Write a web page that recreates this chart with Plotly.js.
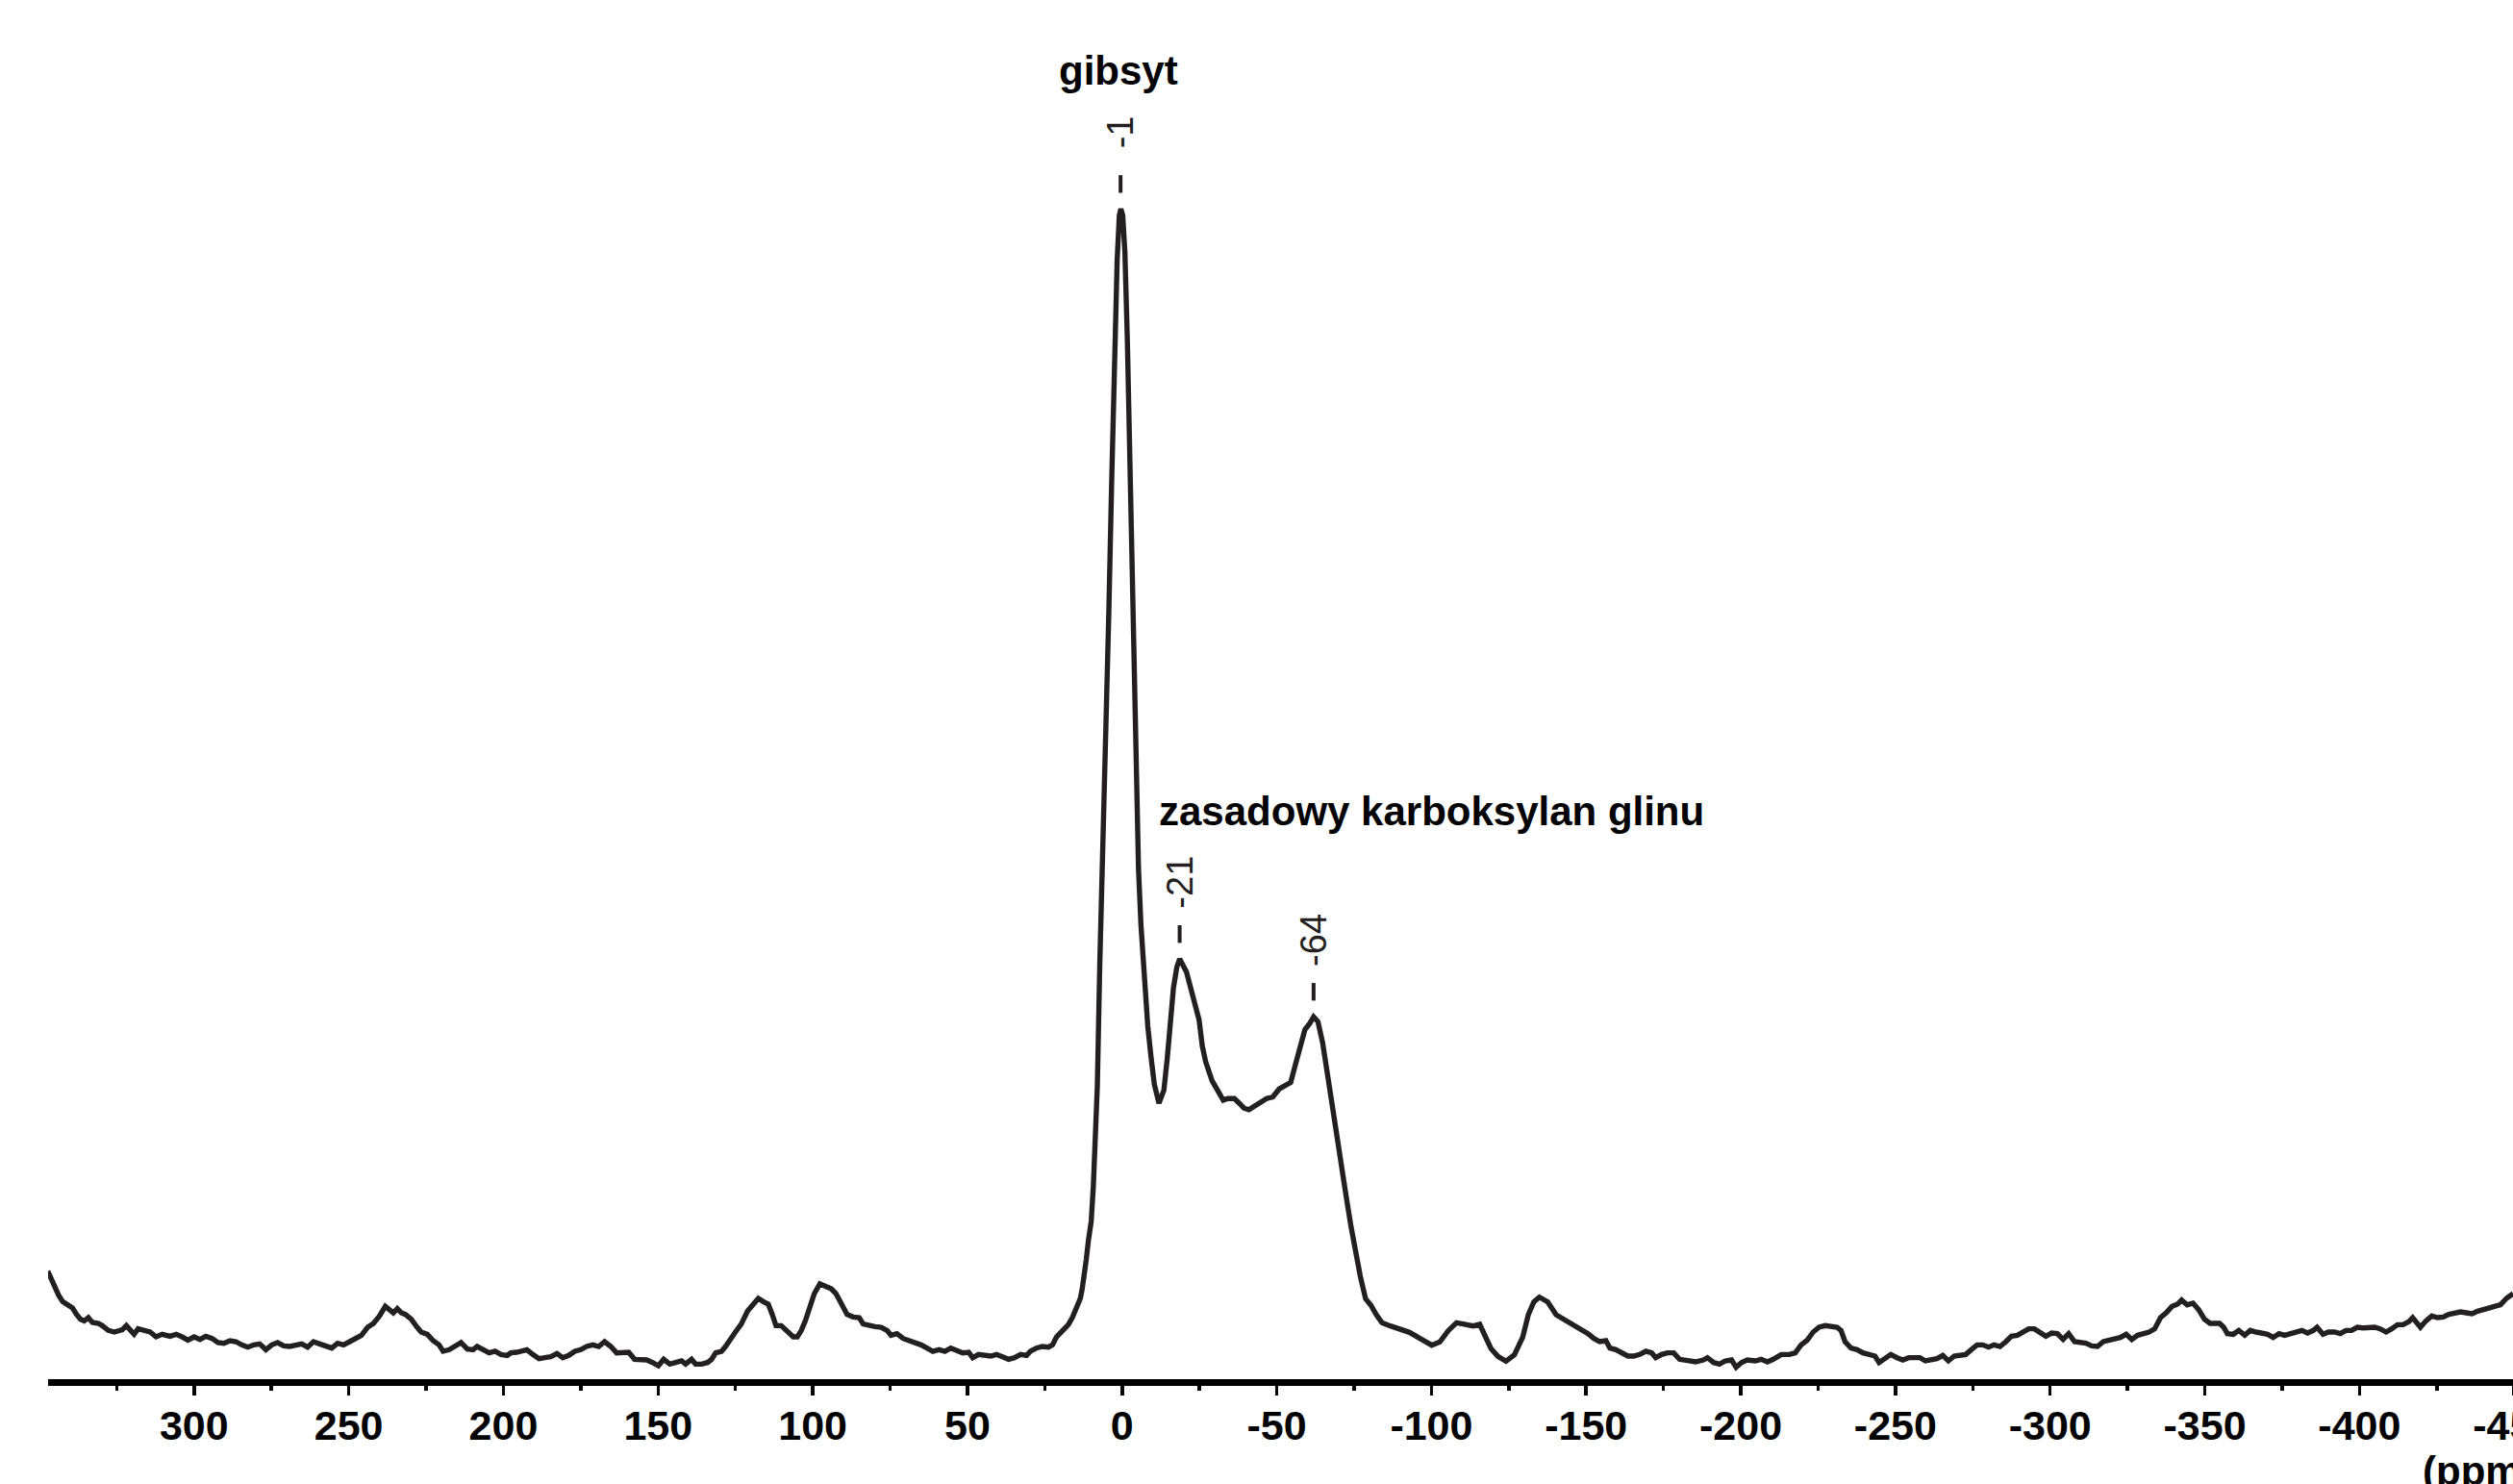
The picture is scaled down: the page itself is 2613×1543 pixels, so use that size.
<!DOCTYPE html>
<html><head><meta charset="utf-8">
<script src="https://cdn.plot.ly/plotly-3.0.1.min.js"></script>
<style>html,body{margin:0;padding:0;overflow:hidden;background:#fff}#chart{width:2720px;height:1543px}</style>
</head><body><div id="chart"></div>
<script>
// Chemical shift (ppm) and intensity (a.u.), in segments
const ppmA = [347.3,345.8,343.8,342.5,340.6,339.3,338.0,336.7,335.5,334.2,
  332.9,330.9,329.7,327.7,325.8,324.5,323.2,321.9,320.6,319.4,
  318.1,316.1,314.2,312.3,310.3,307.8,305.8,303.9,302.0,300.0,
  298.1,296.2,294.2,292.3,290.4,288.4,286.5,284.6,282.6,280.7,
  278.8,276.8,274.9,273.0,271.0,269.1,267.1,265.2,263.3,261.4,
  259.4,257.5,255.5,253.6,251.7,249.7,247.8,245.9,243.9,242.0,
  240.1,238.2,236.9,235.6,234.3,233.0,231.7,229.8,227.9,226.6,
  224.6,222.7,220.8,219.5,217.5,215.6,213.7,211.7,209.8,208.5,
  206.6,204.6,202.7,200.8,198.8,197.6,195.7,193.7,192.4,190.5,
  188.5,186.6,184.7,182.7,180.8,178.9,176.9,175.0,173.1,171.1,
  169.2,167.3,165.3,163.4,161.5,159.5,157.6,155.7,153.7,151.8,149.9];
const intA = [69.2,62.2,54.2,50.2,47.8,46.2,42.2,39.2,38.2,40.2,
  37.2,36.6,35.2,32.2,31.2,32.2,32.6,35.2,32.2,29.8,
  33.2,32.2,31.2,28.2,29.8,28.6,29.8,28.2,26.2,28.2,
  26.6,28.6,27.2,24.6,24.2,25.8,25.2,23.2,21.8,23.2,
  23.8,20.2,23.2,24.6,22.6,22.2,23.2,23.8,21.8,25.2,
  23.8,22.2,21.2,24.2,23.2,25.2,27.2,29.2,34.2,36.6,
  41.2,47.2,45.2,43.2,45.8,43.2,42.2,39.2,34.2,31.2,
  29.8,25.8,23.2,19.2,20.2,22.2,24.6,20.6,20.2,22.2,
  20.2,18.2,19.2,17.2,16.6,18.2,18.6,19.2,20.2,17.2,
  14.6,15.2,15.8,17.8,15.2,16.6,19.2,20.2,22.2,23.2,
  22.2,25.2,22.2,18.2,18.6,18.6,14.2,13.8,13.8,12.2,10.2];

const ppmB = [148.2,146.2,144.3,142.4,141.1,139.2,137.9,135.9,134.0,132.7,
  131.4,129.5,128.2,126.9,125.0,123.1,121.1,119.2,117.6,116.0,
  114.4,113.1,111.9,110.2,108.2,106.3,105.0,103.7,102.4,101.1,
  99.5,97.7,96.0,94.0,92.5,90.8,88.9,87.0,85.0,83.7,
  81.8,79.9,77.9,76.0,74.7,72.8,70.8,68.9,67.0,65.0,
  63.1,61.2,59.2,57.3,55.4,53.4,51.5,49.6,48.3,46.4,
  44.4,42.5,40.6,38.6,36.7,34.8,32.8,30.9,29.6,27.7,
  25.8,23.8,22.5,21.2,19.3,17.4,16.1,14.8,13.5,12.9,
  12.2,11.6,10.9,10.0];
const intB = [14.2,11.2,12.2,13.2,11.2,14.2,11.2,11.2,12.2,14.2,
  18.2,19.2,22.2,26.2,31.2,36.2,44.2,48.6,52.2,50.2,
  48.6,42.2,35.2,35.2,31.2,28.2,28.2,32.2,38.2,46.2,
  55.2,61.2,60.2,58.2,55.2,49.2,42.2,40.6,40.2,36.2,
  35.2,34.6,34.2,32.2,29.2,30.2,27.2,25.8,25.2,23.2,
  21.2,19.2,20.2,19.2,21.2,19.2,18.2,18.6,15.2,17.2,
  16.6,16.2,17.2,15.2,14.2,15.2,17.2,16.6,19.2,21.2,
  22.2,21.8,23.2,28.2,32.6,35.8,40.2,46.2,52.2,58.2,
  66.2,76.2,88.2,100.2];

const ppmC = [9.3,8.8,8.0,7.2,6.2,5.2,4.3,3.4,2.5,1.6,
  0.9,0.4,-0.2,-0.9,-1.7,-2.6,-3.5,-4.4,-5.3,-6.1,
  -6.8,-7.3,-8.3,-9.4,-10.4,-11.9,-13.5,-14.6,-15.6,-16.6,
  -17.7,-18.6];
const intC = [122,142,185,262,330,400,480,560,640,700,
  728,732,728,705,650,562,470,380,320,285,
  262,242,222,202,186,174,182,202,226,246,
  259,264];

const ppmD = [-20.8,-22.8,-24.9,-25.9,-27.0,-29.1,-31.1,-32.7,-34.2,-36.3,
  -37.9,-39.4,-41.0,-42.5,-44.6,-46.7,-48.7,-50.8,-52.6,-54.5,
  -56.0,-57.6,-59.1,-60.7,-61.9,-63.3,-64.8,-66.4,-67.9,-69.5,
  -71.0,-72.5,-74.0,-75.5,-77.0];
const intD = [255.9,241.9,225.9,209.9,199.9,187.9,181.9,175.9,176.9,176.9,
  173.9,170.9,169.9,171.9,173.9,176.9,177.9,182.9,184.9,186.9,
  197.9,209.9,219.9,223.9,227.9,224.9,211.9,191.9,172,152,
  134,115,97,80,66];

const ppmE = [-78.7,-80.4,-82.2,-84.0,-86.7,-89.4,-92.9,
  -95.6,-98.3,-100.1,-102.7,-105.4,-108.1,-110.8,-113.5,-115.6,-117.4,
  -119.2,-121.5,-124.1,-126.8,-129.5,-131.3,-133.1,-134.9,-137.6,-140.3,
  -142.9,-145.6,-149.2];
const intE = [52,48,42,37,35,33,31,
  28,25,23,25,32,37,36,35,36,28,
  21,16,13,17,28,42,50,53,50,42,
  39,36,32];

const ppmF = [-150.6,-152.5,-154.4,-156.4,-157.7,-159.6,-161.5,-163.5,-165.4,-167.3,
  -169.3,-171.2,-172.5,-174.4,-176.3,-178.3,-180.2,-182.8,-185.4,-187.9,
  -189.2,-191.2,-193.1,-195.0,-197.0,-198.5,-200.2,-202.1,-204.7,-206.6,
  -208.6,-210.5,-213.1,-215.7,-217.6,-219.5,-221.5,-223.4,-225.3,-227.3,
  -229.2,-231.1,-232.4,-233.7,-235.6,-237.6,-239.5,-241.4,-243.4,-244.7,
  -246.6,-248.5,-250.5,-252.4,-254.3,-256.0];
const intF = [30.2,27.2,25.2,25.8,21.2,20.2,18.2,16.2,16.2,17.2,
  19.2,18.2,15.2,17.2,18.2,18.2,14.2,13.8,12.6,13.8,
  15.2,12.2,11.2,13.2,13.8,9.2,12.2,13.8,13.2,14.2,
  12.6,14.2,17.2,17.2,18.2,23.2,26.2,31.2,34.2,35.2,
  34.6,34.2,32.2,25.2,21.2,20.2,18.2,17.2,16.2,12.2,
  15.2,17.2,15.2,13.8,15.2,15.2];

const ppmG = [-257.9,-259.7,-261.6,-263.4,-265.3,-267.1,-269.0,-270.8,-272.7,-274.5,
  -276.4,-278.2,-280.1,-281.9,-283.8,-285.7,-287.5,-289.4,-291.2,-293.1,
  -294.9,-296.8,-298.6,-300.5,-302.3,-304.2,-306.0,-307.9,-309.7,-311.6,
  -313.4,-315.3,-317.2,-319.0,-320.9,-322.7,-324.6,-326.4,-328.3,-330.1,
  -332.0,-333.8,-335.7,-337.5,-339.4,-341.2,-342.5,-344.3,-346.2,-348.0,
  -349.9,-351.7,-353.6,-354.8,-356.1,-357.3,-359.2,-361.0,-362.9,-364.7,
  -366.6,-368.4,-370.3,-372.1,-374.0,-375.8,-377.7,-379.5,-381.4,-383.2,
  -385.1,-386.3,-388.2,-390.0,-391.9,-393.8,-395.6,-397.4,-399.3,-401.2,
  -403.0,-404.9,-406.7,-408.6,-410.4,-412.3,-414.1,-416.0,-417.2,-418.5,
  -419.7,-421.5,-423.4,-425.2,-427.1,-428.9,-430.8,-432.7,-434.5,-436.4,
  -438.2,-440.1,-441.9,-443.8,-445.6,-447.5,-449.7];
const intG = [15.2,13.2,14.2,14.6,16.6,13.2,16.2,16.6,17.2,20.2,
  23.2,23.2,21.8,23.2,22.2,25.2,28.6,29.2,31.2,33.2,
  33.2,31.2,28.6,30.6,30.2,26.6,30.2,25.2,24.6,24.2,
  22.6,22.2,25.2,26.2,26.6,27.8,29.8,26.6,29.2,30.2,
  31.2,33.2,40.2,43.2,47.2,48.6,51.2,48.2,49.2,45.2,
  39.2,36.6,36.2,36.6,34.2,30.2,29.8,32.2,29.2,32.2,
  31.2,30.2,29.8,27.8,30.2,29.2,30.2,31.2,32.2,30.6,
  32.2,34.2,29.8,31.2,31.2,30.2,32.2,32.2,34.2,33.8,
  34.2,34.2,33.2,31.2,33.2,35.8,35.8,37.8,40.2,37.2,
  34.2,38.2,41.2,40.2,40.6,42.2,43.2,43.8,43.2,42.6,
  44.2,45.2,45.8,47.2,48.2,52.2,55.2];

const tickVals = [300,250,200,150,100,50,0,-50,-100,-150,-200,-250,-300,-350,-400,-450];
const tickText = ['300','250','200','150','100','50','0','-50','-100','-150','-200','-250','-300','-350','-400','-450'];

const peakPpm = [0.5, -18.6, -61.9];
const peakHeight = [732, 264, 228];
const peakText = ['-1', '-21', '-64'];

const groupLabels = ['gibsyt', 'zasadowy karboksylan glinu'];
const axisUnit = '(ppm)';

const ppm = [].concat(ppmA, ppmB, ppmC, ppmD, ppmE, ppmF, ppmG);
const intensity = [].concat(intA, intB, intC, intD, intE, intF, intG);
if (ppm.length !== intensity.length) console.warn('length mismatch', ppm.length, intensity.length);

const FONT = 'Liberation Sans, Arial, Helvetica, sans-serif';
const INK = '#231f20';

const trace = {
  x: ppm, y: intensity, type: 'scatter', mode: 'lines',
  line: {color: INK, width: 5.4, shape: 'linear'},
  hoverinfo: 'skip', cliponaxis: true
};

const annotations = [];
const shapes = [];
peakPpm.forEach((p, i) => {
  annotations.push({
    xref: 'x', yref: 'y', x: p, y: peakHeight[i] + 48,
    text: peakText[i], textangle: -90, showarrow: false,
    xanchor: 'center', yanchor: 'middle',
    font: {family: FONT, size: 38, color: INK}
  });
  shapes.push({
    type: 'line', xref: 'x', yref: 'y', x0: p, x1: p,
    y0: peakHeight[i] + 10, y1: peakHeight[i] + 21,
    line: {color: INK, width: 4}
  });
});
annotations.push({
  xref: 'x', yref: 'y', x: 1.3, y: 818, text: groupLabels[0], showarrow: false,
  xanchor: 'center', yanchor: 'middle',
  font: {family: FONT, size: 42, color: '#000', weight: 'bold'}
});
annotations.push({
  xref: 'x', yref: 'y', x: -11.4, y: 356, text: groupLabels[1], showarrow: false,
  xanchor: 'left', yanchor: 'middle',
  font: {family: FONT, size: 42, color: '#000', weight: 'bold'}
});
annotations.push({
  xref: 'x', yref: 'paper', x: -419.7, y: 0, yshift: -95, text: axisUnit, showarrow: false,
  xanchor: 'left', yanchor: 'middle',
  font: {family: FONT, size: 42, color: '#000', weight: 'bold'}
});

const layout = {
  width: 2720, height: 1543,
  margin: {l: 50, r: 0, t: 0, b: 109, pad: 0},
  paper_bgcolor: '#fff', plot_bgcolor: '#fff',
  showlegend: false,
  xaxis: {
    range: [347.2, -482.9], showgrid: false, zeroline: false,
    showline: true, linewidth: 7, linecolor: '#000',
    ticks: 'outside', ticklen: 10, tickwidth: 3.5, tickcolor: '#000',
    tickmode: 'array', tickvals: tickVals, ticktext: tickText,
    ticklabelstandoff: -6,
    tickfont: {family: FONT, size: 43, color: '#000', weight: 'bold'},
    minor: {tickmode: 'linear', tick0: 25, dtick: 50, ticks: 'outside', ticklen: 5, tickwidth: 3.5, tickcolor: '#000', showgrid: false}
  },
  yaxis: {
    range: [1.8, 862.3], visible: false, showgrid: false, zeroline: false
  },
  annotations: annotations,
  shapes: shapes
};

Plotly.newPlot('chart', [trace], layout, {displayModeBar: false, staticPlot: true});
</script>
</body></html>
